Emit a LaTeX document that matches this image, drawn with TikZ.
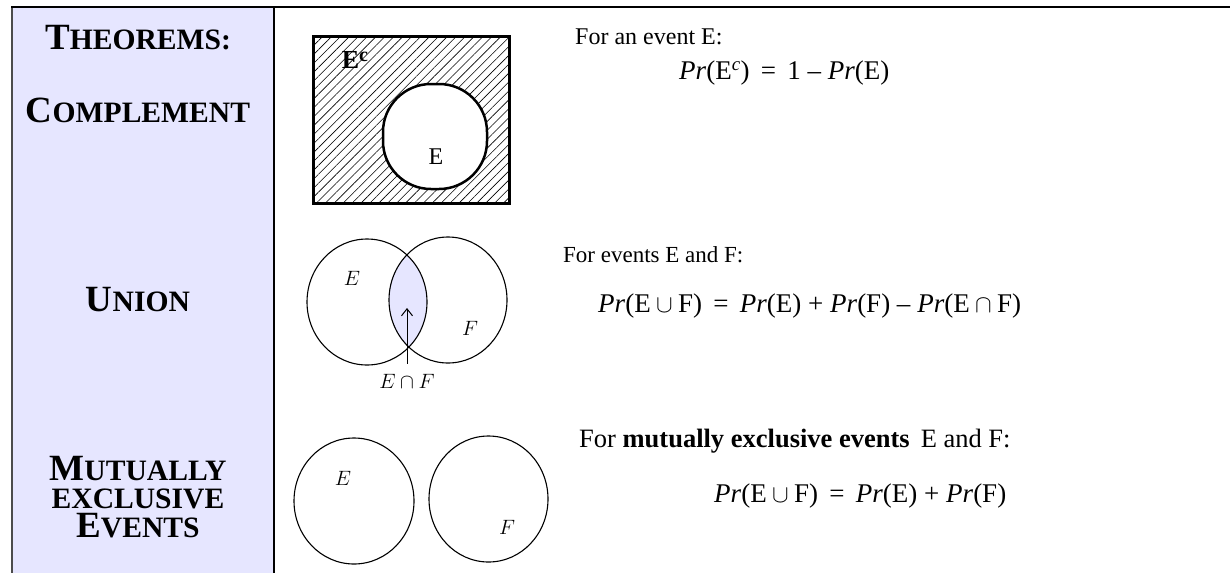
\documentclass[tikz,border=0pt]{standalone}
\usepackage{fontspec}
\setmainfont{Liberation Serif}
\usetikzlibrary{patterns.meta,arrows.meta}
\definecolor{lav}{HTML}{E6E6FF}
\newcommand{\bigsc}[2]{{\bfseries\fontsize{37}{28.5}\selectfont #1\fontsize{29.6}{28.5}\selectfont #2}}
\newcommand{\Prr}{\textit{Pr}}
\newcommand{\ops}{\hspace{0.2em}}
\begin{document}
\begin{tikzpicture}[x=1pt,y=-1pt,
  title/.style={inner sep=0pt, anchor=center, align=center, font=\bfseries\fontsize{37}{28.5}\selectfont},
  txt/.style={inner sep=0pt, anchor=west, font=\fontsize{24}{28}\selectfont},
  formula/.style={inner sep=0pt, anchor=west, font=\fontsize{27}{32}\selectfont},
  lbl/.style={inner sep=0pt, font=\fontsize{20}{22}\selectfont},
  venn/.style={line width=1.1pt},
  frame/.style={line width=2.5pt}]
\useasboundingbox (0,0) rectangle (1230,573);
% left column
\fill[lav] (12,7) rectangle (274,573);
\draw[line width=2pt, black!70] (12,7) -- (12,573);
\draw[line width=1.5pt] (274,7) -- (274,573);
\draw[frame] (11,7) -- (1230,7);
% titles
\node[title] (t1) at (138,38) {\bigsc{T}{HEOREMS:}};
\node[title] (t2) at (138,110) {\bigsc{C}{OMPLEMENT}};
\node[title] (t3) at (138,300) {\bigsc{U}{NION}};
\node[title] (t4) at (138,497) {\bigsc{M}{UTUALLY}\\\bigsc{}{EXCLUSIVE}\\\bigsc{E}{VENTS}};
% complement diagram
\path[pattern={Lines[angle=45,distance=6.3pt,line width=0.6pt]}] (313,36) rectangle (509,203);
\draw[line width=3pt] (313,36) rectangle (509,203);
\draw[line width=2.5pt, fill=white, rounded corners=48pt] (383,84) rectangle (487,189);
\node[inner sep=0pt, font=\fontsize{24}{28}\selectfont] (e1) at (436,157) {E};
\node[inner sep=0pt, font=\fontsize{26}{28}\selectfont\bfseries] (ec) at (355,60) {E\raisebox{7pt}{\fontsize{20}{22}\selectfont c}};
% union diagram
\begin{scope}
\clip (367,302) ellipse [x radius=60pt, y radius=63pt];
\fill[lav] (448,300) ellipse [x radius=59pt, y radius=63pt];
\end{scope}
\draw[venn] (367,302) ellipse [x radius=60pt, y radius=63pt];
\draw[venn] (448,300) ellipse [x radius=59pt, y radius=63pt];
\node[lbl] (ue) at (352,278) {$E$};
\node[lbl] (uf) at (470,328) {$F$};
\node[lbl] (ef) at (407,381) {$E\cap F$};
\coordinate (lens) at (407,308);
\draw[line width=1pt, -{Straight Barb[length=7pt,width=11pt]}] ([yshift=10pt]ef.north) -- (lens);
% mutually exclusive diagram
\draw[venn] (354,501) ellipse [x radius=60pt, y radius=63pt];
\draw[venn] (488.5,499) ellipse [x radius=59.5pt, y radius=63pt];
\node[lbl] (me) at (343,478) {$E$};
\node[lbl] (mf) at (507,527) {$F$};
% texts
\node[txt] (s1) at (575,37) {For an event E:};
\node[formula] (f1) at (679,73) {\Prr(E\textsuperscript{\textit{c}}) \,=\, 1 -- \Prr(E)};
\node[txt, font=\fontsize{23}{28}\selectfont] (s2) at (563,255) {For events E and F:};
\node[formula] (f2) at (598,306) {\Prr(E\ops$\cup$\ops F) \,=\, \Prr(E) + \Prr(F) -- \Prr(E\ops$\cap$\ops F)};
\node[txt, font=\fontsize{26.5}{30}\selectfont] (s3) at (579,441) {For \textbf{mutually exclusive events}\, E and F:};
\node[formula] (f3) at (714,496) {\Prr(E\ops$\cup$\ops F) \,=\, \Prr(E) + \Prr(F)};
\end{tikzpicture}
\end{document}
